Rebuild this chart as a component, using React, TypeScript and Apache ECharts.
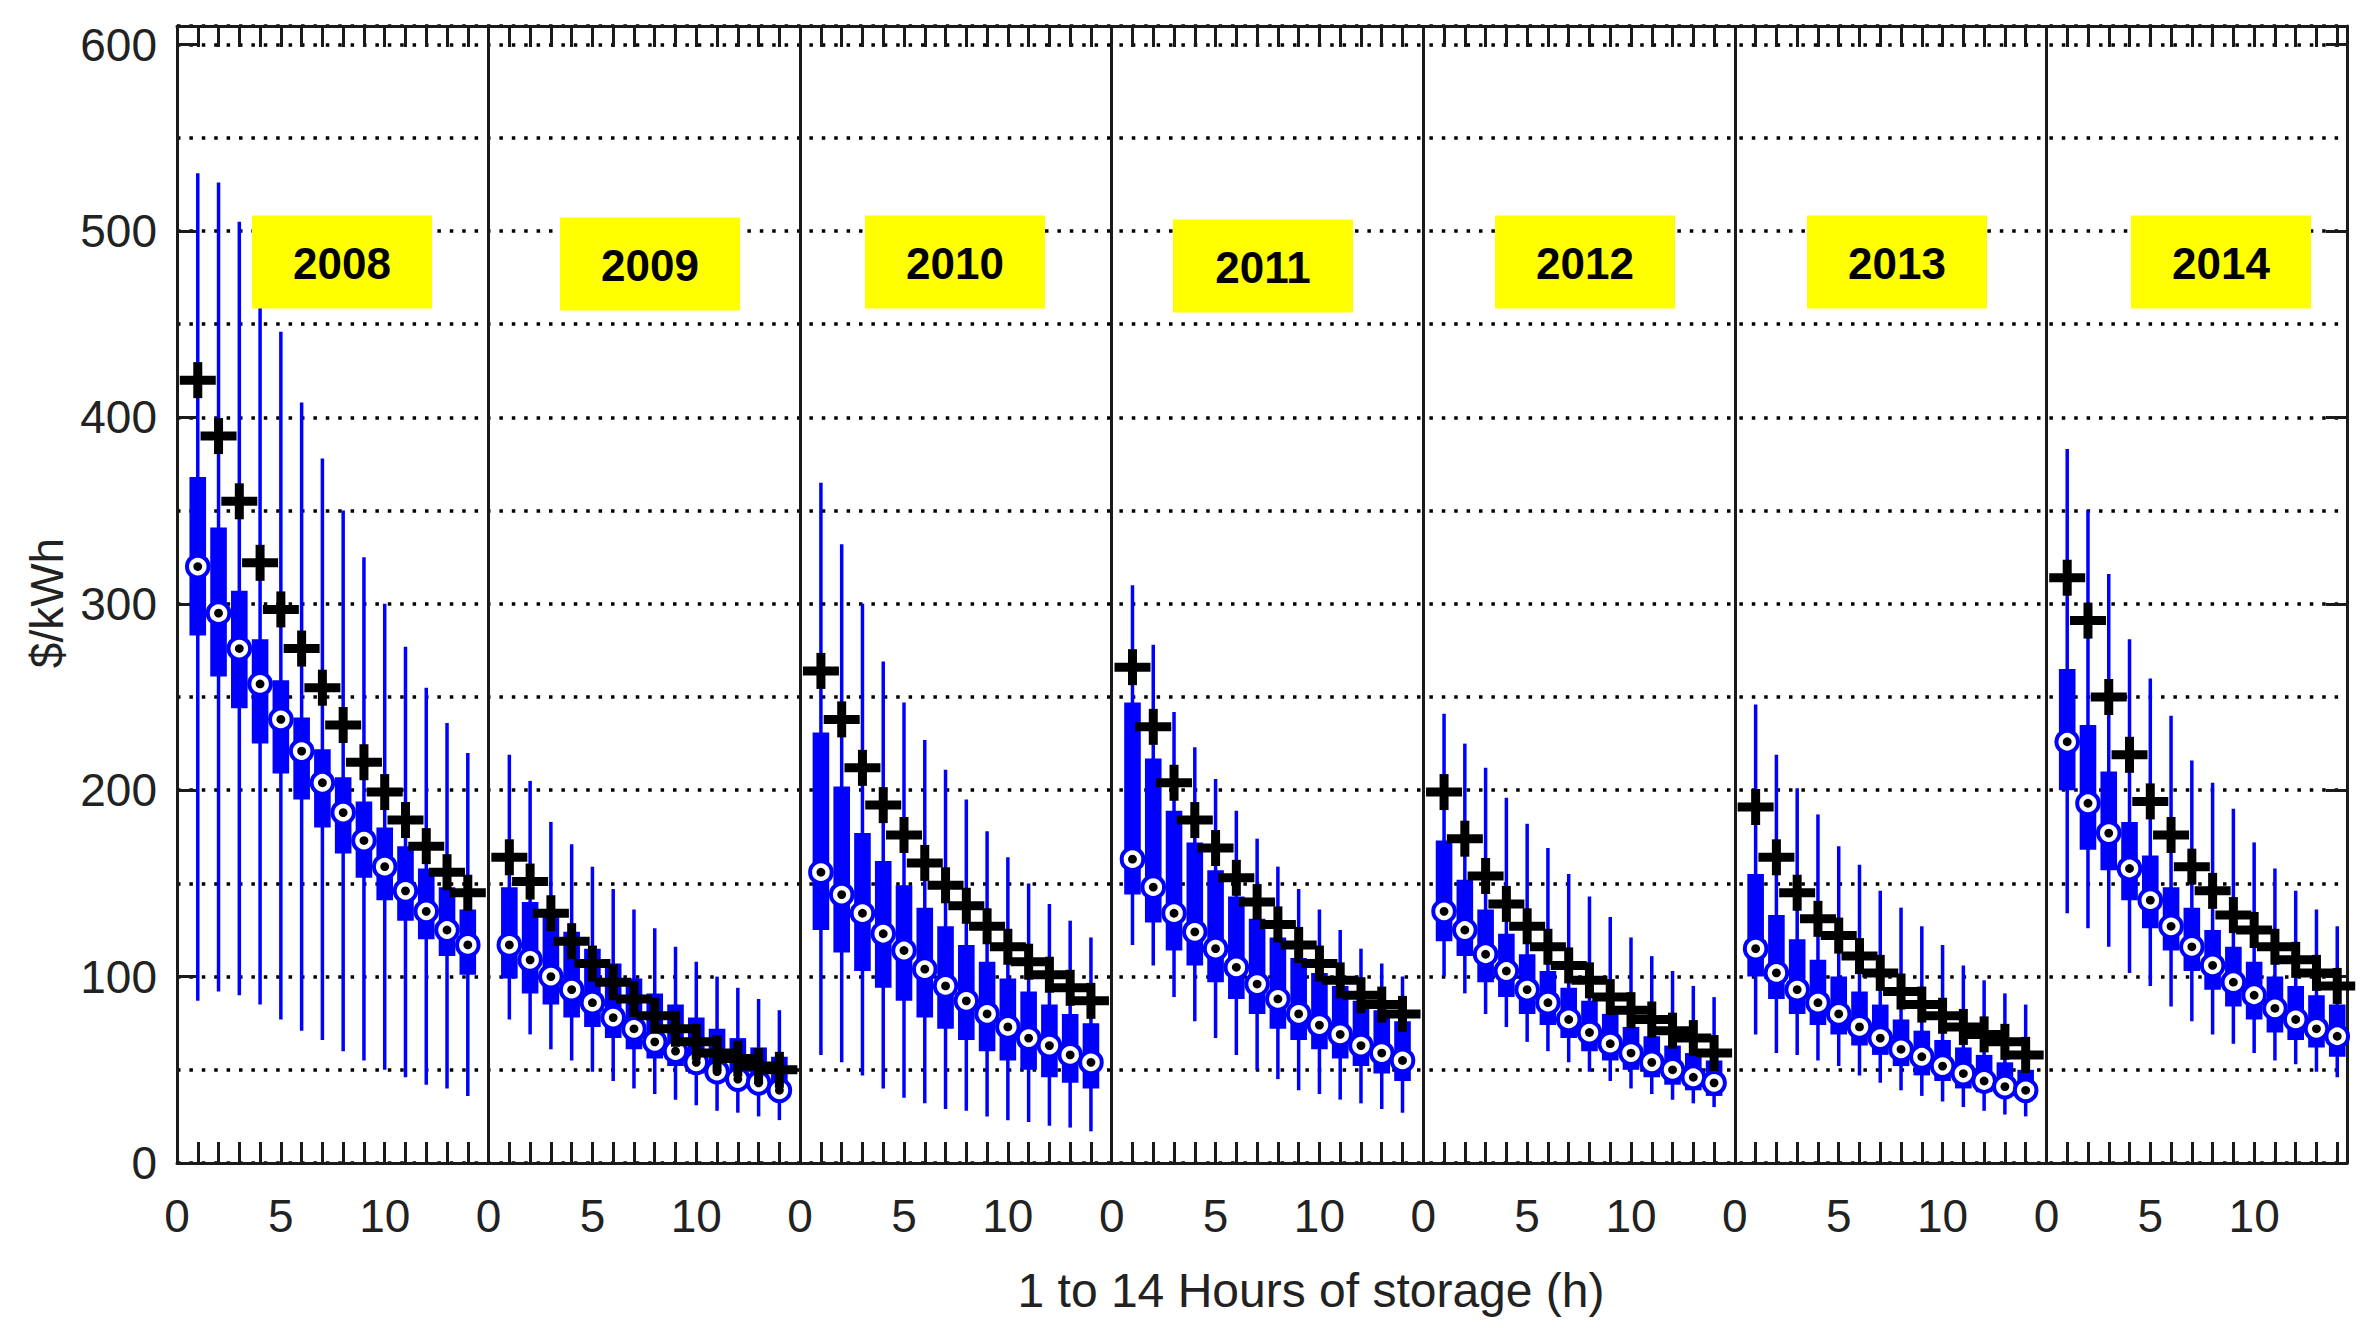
import React, { useEffect, useRef } from "react";
import * as echarts from "echarts";

// ---------------- DATA ----------------
const YEARS = ["2008", "2009", "2010", "2011", "2012", "2013", "2014"];
const HOURS = [1, 2, 3, 4, 5, 6, 7, 8, 9, 10, 11, 12, 13, 14];
const Y_TICKS = [0, 100, 200, 300, 400, 500, 600];
const X_TICK_LABELS = [0, 5, 10];

// whisker lower ends ($/kWh), one row per year, one column per hour
const WHISKER_LOW = [
  [87, 92, 90, 85, 77, 71, 66, 60, 55, 50, 46, 42, 40, 36],
  [77, 69, 61, 55, 49, 44, 40, 37, 34, 31, 28, 27, 25, 23],
  [58, 54, 47, 40, 35, 32, 29, 28, 25, 23, 22, 20, 19, 17],
  [117, 106, 89, 76, 67, 58, 50, 45, 39, 37, 34, 32, 29, 27],
  [100, 91, 80, 73, 65, 60, 54, 49, 44, 40, 37, 34, 32, 30],
  [69, 59, 58, 55, 52, 47, 43, 39, 36, 33, 30, 28, 26, 25],
  [134, 126, 116, 102, 95, 84, 76, 69, 64, 59, 55, 53, 49, 46],
];
// 25th percentile (box bottom)
const Q1 = [
  [283, 261, 244, 225, 209, 195, 180, 166, 153, 141, 130, 120, 111, 101],
  [99, 91, 85, 78, 73, 67, 61, 56, 52, 48, 44, 41, 38, 35],
  [125, 113, 103, 94, 87, 78, 72, 66, 60, 55, 50, 46, 43, 40],
  [144, 129, 114, 106, 97, 88, 80, 72, 66, 61, 56, 52, 48, 44],
  [119, 111, 97, 89, 80, 74, 67, 60, 55, 50, 46, 42, 39, 36],
  [100, 88, 80, 74, 69, 63, 58, 52, 47, 44, 40, 38, 36, 34],
  [200, 168, 157, 141, 126, 114, 103, 93, 84, 77, 70, 66, 62, 57],
];
// medians
const MEDIAN = [
  [320, 295, 276, 257, 238, 221, 204, 188, 173, 159, 146, 135, 125, 117],
  [117, 109, 100, 93, 86, 78, 72, 65, 60, 54, 49, 45, 43, 39],
  [156, 144, 134, 123, 114, 104, 95, 87, 80, 73, 67, 63, 58, 54],
  [163, 148, 134, 124, 115, 105, 96, 88, 80, 74, 69, 63, 59, 55],
  [135, 125, 112, 103, 93, 86, 77, 70, 64, 59, 54, 50, 46, 43],
  [115, 102, 93, 86, 80, 73, 67, 61, 57, 52, 48, 44, 41, 39],
  [226, 193, 177, 158, 141, 127, 116, 106, 97, 90, 83, 77, 72, 68],
];
// 75th percentile (box top)
const Q3 = [
  [368, 341, 307, 281, 259, 239, 222, 207, 194, 180, 170, 158, 148, 136],
  [148, 140, 132, 124, 115, 107, 99, 91, 85, 78, 72, 67, 62, 57],
  [231, 202, 177, 162, 149, 137, 127, 117, 108, 99, 92, 85, 80, 75],
  [247, 217, 189, 172, 157, 143, 131, 121, 110, 102, 95, 87, 82, 76],
  [173, 152, 136, 123, 112, 103, 94, 87, 80, 73, 68, 63, 59, 55],
  [155, 133, 120, 109, 100, 92, 85, 77, 71, 66, 62, 58, 54, 50],
  [265, 235, 210, 183, 165, 148, 137, 125, 116, 108, 100, 95, 90, 85],
];
// whisker upper ends
const WHISKER_HIGH = [
  [531, 526, 505, 478, 446, 408, 378, 350, 325, 300, 277, 255, 236, 220],
  [219, 205, 183, 171, 159, 147, 136, 126, 116, 108, 100, 94, 88, 82],
  [365, 332, 300, 269, 247, 227, 211, 195, 178, 164, 150, 139, 130, 121],
  [310, 278, 242, 223, 206, 189, 174, 159, 147, 136, 125, 115, 107, 100],
  [241, 225, 212, 196, 182, 169, 155, 143, 132, 121, 111, 103, 95, 89],
  [246, 219, 201, 187, 170, 160, 146, 137, 127, 117, 106, 98, 91, 85],
  [383, 350, 316, 281, 260, 240, 216, 204, 190, 172, 158, 146, 136, 127],
];
// means (black crosses)
const MEAN = [
  [420, 390, 355, 322, 297, 276, 255, 235, 215, 199, 184, 170, 156, 145],
  [164, 151, 134, 119, 107, 97, 88, 79, 72, 65, 59, 56, 52, 50],
  [264, 238, 212, 192, 176, 161, 149, 138, 127, 116, 108, 101, 94, 87],
  [266, 234, 204, 184, 169, 153, 140, 128, 117, 107, 98, 90, 85, 80],
  [199, 174, 154, 139, 127, 116, 106, 98, 89, 82, 77, 71, 67, 59],
  [191, 164, 145, 131, 122, 111, 102, 92, 85, 79, 73, 69, 65, 58],
  [314, 291, 250, 219, 194, 176, 159, 146, 133, 125, 116, 109, 102, 95],
];

// ---------------- LAYOUT ----------------
const W = 2361;
const H = 1328;
const PANEL_SPAN = 15; // each panel spans 0..15 hours
const LAST_PANEL_MAX = 14.47;
const X_MAX = PANEL_SPAN * (YEARS.length - 1) + LAST_PANEL_MAX;
const Y_MAX = 610;
const FONT = '"Liberation Sans", Arial, Helvetica, sans-serif';
const BLUE = "#0000ff";
const FRAME = "#1a1a1a";
const YEAR_BOX_CENTERS = [
  [342, 262],
  [650, 264],
  [955, 262],
  [1263, 266],
  [1585, 262],
  [1897, 262],
  [2221, 262],
];

function buildOption() {
  const boxData: number[][] = [];
  const meanData: number[][] = [];
  YEARS.forEach((_, p) => {
    HOURS.forEach((h, i) => {
      const x = p * PANEL_SPAN + h;
      boxData.push([x, WHISKER_LOW[p][i], Q1[p][i], MEDIAN[p][i], Q3[p][i], WHISKER_HIGH[p][i]]);
      meanData.push([x, MEAN[p][i]]);
    });
  });

  const separators = YEARS.slice(1).map((_, i) => ({ xAxis: (i + 1) * PANEL_SPAN }));

  const xFmt = (v: number) => {
    const r = Math.round(v);
    if (Math.abs(v - r) > 1e-6) return "";
    const m = r % PANEL_SPAN;
    return X_TICK_LABELS.indexOf(m) >= 0 ? String(m) : "";
  };
  const yFmt = (v: number) => (Y_TICKS.indexOf(Math.round(v)) >= 0 ? String(Math.round(v)) : "");

  const tickStyle = { color: FRAME, width: 3 };
  const lineStyle = { color: FRAME, width: 3 };

  const graphics: any[] = YEARS.map((y, p) => {
    const [cx, cy] = YEAR_BOX_CENTERS[p];
    return {
      type: "group",
      z: 100,
      children: [
        {
          type: "rect",
          z: 100,
          shape: { x: cx - 90, y: cy - 46.5, width: 180, height: 93 },
          style: { fill: "#ffff00" },
        },
        {
          type: "text",
          z: 101,
          x: cx,
          y: cy + 1,
          style: {
            text: y,
            fill: "#000",
            font: `bold 44px ${FONT}`,
            align: "center",
            verticalAlign: "middle",
            textAlign: "center",
            textVerticalAlign: "middle",
          },
        },
      ],
    };
  });
  graphics.push({
    type: "text",
    x: 1311,
    y: 1290,
    style: {
      text: "1 to 14 Hours of storage (h)",
      fill: "#222",
      font: `48px ${FONT}`,
      align: "center",
      verticalAlign: "middle",
      textAlign: "center",
      textVerticalAlign: "middle",
    },
  });
  graphics.push({
    type: "text",
    x: 47,
    y: 603,
    rotation: Math.PI / 2,
    style: {
      text: "$/kWh",
      fill: "#222",
      font: `46px ${FONT}`,
      align: "center",
      verticalAlign: "middle",
      textAlign: "center",
      textVerticalAlign: "middle",
    },
  });

  return {
    animation: false,
    backgroundColor: "#ffffff",
    grid: { left: 177, right: W - 2347, top: 26, bottom: H - 1163, containLabel: false },
    xAxis: [
      {
        type: "value",
        min: 0,
        max: X_MAX,
        interval: 1,
        position: "bottom",
        axisLine: { show: true, onZero: false, lineStyle },
        axisTick: { show: true, inside: true, length: 21, lineStyle: tickStyle },
        axisLabel: {
          show: true,
          formatter: xFmt,
          margin: 30,
          fontSize: 46,
          color: "#222",
          fontFamily: FONT,
          showMaxLabel: false,
        },
        splitLine: { show: false },
      },
      {
        type: "value",
        min: 0,
        max: X_MAX,
        interval: 1,
        position: "top",
        axisLine: { show: true, onZero: false, lineStyle },
        axisTick: { show: true, inside: true, length: 21, lineStyle: tickStyle },
        axisLabel: { show: false },
        splitLine: { show: false },
      },
    ],
    yAxis: [
      {
        type: "value",
        min: 0,
        max: Y_MAX,
        interval: 50,
        position: "left",
        axisLine: { show: true, onZero: false, lineStyle },
        axisTick: { show: false },
        axisLabel: {
          formatter: yFmt,
          margin: 20,
          fontSize: 46,
          color: "#222",
          fontFamily: FONT,
          showMaxLabel: false,
        },
        splitLine: {
          show: true,
          lineStyle: { color: "#000", width: 3.5, type: [3.5, 8.9] },
        },
      },
      {
        type: "value",
        min: 0,
        max: Y_MAX,
        interval: 100,
        position: "left",
        axisLine: { show: false },
        axisTick: { show: true, inside: true, length: 21, lineStyle: tickStyle },
        axisLabel: { show: false },
        splitLine: { show: false },
      },
      {
        type: "value",
        min: 0,
        max: Y_MAX,
        interval: 100,
        position: "right",
        axisLine: { show: true, onZero: false, lineStyle },
        axisTick: { show: true, inside: true, length: 21, lineStyle: tickStyle },
        axisLabel: { show: false },
        splitLine: { show: false },
      },
    ],
    graphic: graphics,
    series: [
      {
        type: "custom",
        name: "box",
        xAxisIndex: 0,
        yAxisIndex: 0,
        z: 3,
        clip: false,
        encode: { x: 0, y: [1, 2, 3, 4, 5] },
        data: boxData,
        renderItem: (params: any, api: any) => {
          const x = api.value(0);
          const lo = api.coord([x, api.value(1)]);
          const q1 = api.coord([x, api.value(2)]);
          const md = api.coord([x, api.value(3)]);
          const q3 = api.coord([x, api.value(4)]);
          const hi = api.coord([x, api.value(5)]);
          const hw = 8.3;
          return {
            type: "group",
            children: [
              {
                type: "line",
                shape: { x1: lo[0], y1: lo[1], x2: hi[0], y2: hi[1] },
                style: { stroke: BLUE, lineWidth: 3.5 },
              },
              {
                type: "rect",
                shape: { x: q3[0] - hw, y: q3[1], width: hw * 2, height: q1[1] - q3[1] },
                style: { fill: BLUE },
              },
              {
                type: "circle",
                shape: { cx: md[0], cy: md[1], r: 10.8 },
                style: { fill: "#ffffff", stroke: BLUE, lineWidth: 4 },
              },
              {
                type: "circle",
                shape: { cx: md[0], cy: md[1], r: 4.4 },
                style: { fill: "#000000" },
              },
            ],
          };
        },
        markLine: {
          silent: true,
          symbol: ["none", "none"],
          label: { show: false },
          lineStyle: { color: FRAME, width: 3, type: "solid" },
          data: separators,
        },
      },
      {
        type: "custom",
        name: "mean",
        xAxisIndex: 0,
        yAxisIndex: 0,
        z: 5,
        clip: false,
        encode: { x: 0, y: 1 },
        data: meanData,
        renderItem: (params: any, api: any) => {
          const c = api.coord([api.value(0), api.value(1)]);
          const a = 18;
          return {
            type: "group",
            children: [
              {
                type: "line",
                shape: { x1: c[0] - a, y1: c[1], x2: c[0] + a, y2: c[1] },
                style: { stroke: "#000", lineWidth: 9 },
              },
              {
                type: "line",
                shape: { x1: c[0], y1: c[1] - a, x2: c[0], y2: c[1] + a },
                style: { stroke: "#000", lineWidth: 9 },
              },
            ],
          };
        },
      },
    ],
  };
}

export default function App() {
  const ref = useRef<HTMLDivElement>(null);
  useEffect(() => {
    document.body.style.margin = "0";
    if (!ref.current) return;
    const chart = echarts.init(ref.current, undefined, { renderer: "svg", width: W, height: H });
    chart.setOption(buildOption() as any);
    return () => {
      chart.dispose();
    };
  }, []);
  return (
    <div
      ref={ref}
      style={{ position: "absolute", left: 0, top: 0, width: W, height: H, background: "#fff" }}
    />
  );
}
